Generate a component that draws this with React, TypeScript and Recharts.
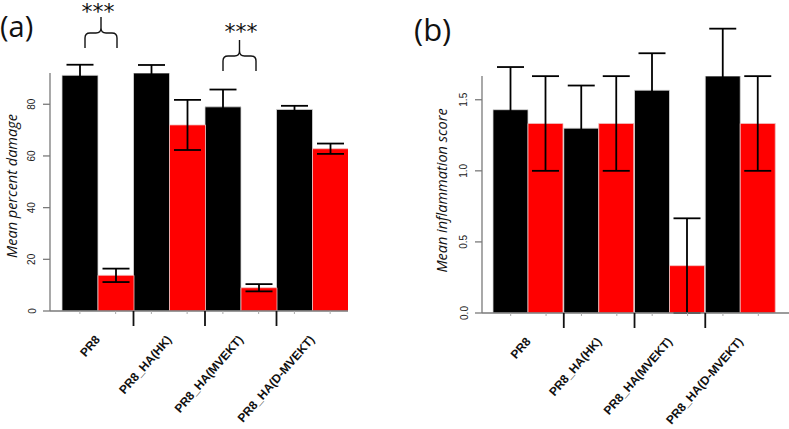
import React from 'react';
import { BarChart, Bar, XAxis, YAxis, ErrorBar, Label } from 'recharts';

const groups = ['PR8', 'PR8_HA(HK)', 'PR8_HA(MVEKT)', 'PR8_HA(D-MVEKT)'];

// panel (a) - mean percent damage
const damageBlack = [91.2, 92.1, 79.0, 78.0];
const damageBlackErr = [4.1, 3.1, 6.7, 1.4];
const damageRed = [13.8, 72.0, 9.0, 62.8];
const damageRedErr = [2.6, 9.7, 1.4, 2.0];
const damageTicks = [0, 20, 40, 60, 80];

// panel (b) - mean inflammation score
const inflamBlack = [1.43, 1.3, 1.567, 1.667];
const inflamBlackErr = [0.3, 0.3, 0.26, 0.333];
const inflamRed = [1.333, 1.333, 0.333, 1.333];
const inflamRedErr = [0.333, 0.333, 0.333, 0.333];
const inflamTicks = [0, 0.5, 1, 1.5];

const damageData = groups.map((g, i) => ({
  group: g,
  black: damageBlack[i],
  blackErr: damageBlackErr[i],
  red: damageRed[i],
  redErr: damageRedErr[i],
}));

const inflamData = groups.map((g, i) => ({
  group: g,
  black: inflamBlack[i],
  blackErr: inflamBlackErr[i],
  red: inflamRed[i],
  redErr: inflamRedErr[i],
}));

const damageMax = Math.max(...damageBlack, ...damageRed);
const inflamMax = Math.max(...inflamBlack, ...inflamRed);

const axisGray = '#7a7a7a';
const sans = '"Liberation Sans", Arial, sans-serif';
const roundSans = '"Open Sans", "DejaVu Sans", sans-serif';

const makeXTick = (half: number) => (props: any) => {
  const { x, y, payload, index } = props;
  const lx = x + 3;
  const ly = y + 29;
  return (
    <g>
      {index < groups.length - 1 && (
        <line x1={x + half} x2={x + half} y1={y} y2={y + 15} stroke="#111" strokeWidth={1.8} />
      )}
      <line x1={x - half / 2} x2={x - half / 2} y1={y} y2={y + 3} stroke="#aaa" />
      <line x1={x + half / 2} x2={x + half / 2} y1={y} y2={y + 3} stroke="#aaa" />
      <text
        x={lx}
        y={ly}
        transform={`rotate(-49, ${lx}, ${ly})`}
        textAnchor="end"
        fontFamily={sans}
        fontWeight="bold"
        fontSize={12}
        fill="#111"
      >
        {payload.value}
      </text>
    </g>
  );
};

const makeYTick = (digits: number) => (props: any) => {
  const { x, y, payload } = props;
  const tx = x - 9;
  return (
    <text
      x={tx}
      y={y}
      transform={`rotate(-90, ${tx}, ${y})`}
      textAnchor="middle"
      dominantBaseline="central"
      fontFamily={sans}
      fontSize={10}
      fill="#222"
    >
      {Number(payload.value).toFixed(digits)}
    </text>
  );
};

const makeYLabel = (text: string, dx: number, dy: number) => (props: any) => {
  const vb = props.viewBox || { x: 0, y: 0, width: 0, height: 0 };
  const lx = vb.x + dx;
  const ly = vb.y + vb.height / 2 + dy;
  return (
    <text
      x={lx}
      y={ly}
      transform={`rotate(-90, ${lx}, ${ly})`}
      textAnchor="middle"
      dominantBaseline="central"
      fontFamily={roundSans}
      fontStyle="italic"
      fontSize={14.5}
      fill="#111"
    >
      {text}
    </text>
  );
};

const Panel = ({ data, width, yWidth, padLeft, padRight, bottom, top, max, ticks, digits, label, labelX, labelDy, half, errW }: any) => (
  <BarChart
    width={width}
    height={429}
    data={data}
    margin={{ top, right: 0, bottom: 0, left: 0 }}
    barCategoryGap={0}
    barGap={0}
  >
    <XAxis
      dataKey="group"
      type="category"
      interval={0}
      height={bottom}
      padding={{ left: padLeft, right: padRight }}
      axisLine={{ stroke: axisGray, strokeWidth: 1.3 }}
      tickLine={false}
      tickSize={0}
      tickMargin={0}
      tick={makeXTick(half)}
    />
    <YAxis
      type="number"
      width={yWidth}
      domain={[0, max]}
      allowDataOverflow
      ticks={ticks}
      interval={0}
      axisLine={{ stroke: axisGray, strokeWidth: 1.3 }}
      tickLine={{ stroke: axisGray, strokeWidth: 1.3 }}
      tickSize={7}
      tickMargin={2}
      tick={makeYTick(digits)}
    >
      <Label content={makeYLabel(label, labelX, labelDy)} />
    </YAxis>
    <Bar dataKey="black" fill="#000" stroke="#d8d8d8" strokeWidth={0.8} isAnimationActive={false}>
      <ErrorBar dataKey="blackErr" direction="y" width={errW} stroke="#000" strokeWidth={1.8} isAnimationActive={false} />
    </Bar>
    <Bar dataKey="red" fill="#ff0000" stroke="#f0c0c0" strokeWidth={0.8} isAnimationActive={false}>
      <ErrorBar dataKey="redErr" direction="y" width={errW} stroke="#000" strokeWidth={1.8} isAnimationActive={false} />
    </Bar>
  </BarChart>
);

const Brace = ({ x1, x2, top, mid, bottom }: any) => {
  const c = (x1 + x2) / 2;
  const r = 5;
  const d = `M${x1},${bottom} L${x1},${mid + r} Q${x1},${mid} ${x1 + r},${mid} L${c - r},${mid} Q${c},${mid} ${c},${mid - r} L${c},${top}` +
    ` M${c},${mid - r} Q${c},${mid} ${c + r},${mid} L${x2 - r},${mid} Q${x2},${mid} ${x2},${mid + r} L${x2},${bottom}`;
  return <path d={d} fill="none" stroke="#111" strokeWidth={1.4} />;
};

const App = () => {
  return (
    <div style={{ position: 'absolute', left: 0, top: 0, width: 789, height: 429, background: '#fff', overflow: 'hidden' }}>
      <div style={{ position: 'absolute', left: 0, top: 0 }}>
        <Panel
          data={damageData}
          width={348}
          yWidth={50}
          padLeft={12}
          padRight={0}
          bottom={118}
          top={73}
          max={damageMax}
          ticks={damageTicks}
          digits={0}
          label="Mean percent damage"
          labelX={11}
          labelDy={-6}
          half={35.75}
          errW={13.5}
        />
      </div>
      <div style={{ position: 'absolute', left: 400, top: 0 }}>
        <Panel
          data={inflamData}
          width={389}
          yWidth={82}
          padLeft={11}
          padRight={13}
          bottom={116}
          top={76}
          max={inflamMax}
          ticks={inflamTicks}
          digits={1}
          label="Mean inflammation score"
          labelX={41}
          labelDy={-4}
          half={35.4}
          errW={13.5}
        />
      </div>
      <svg width={789} height={429} style={{ position: 'absolute', left: 0, top: 0, pointerEvents: 'none' }}>
        <text x={0} y={37} fontFamily={roundSans} fontSize={29} fill="#111">(a)</text>
        <text x={414} y={41} fontFamily={roundSans} fontSize={31} fill="#111">(b)</text>
        <text x={98} y={19} textAnchor="middle" fontFamily='"DejaVu Sans", sans-serif' fontSize={22} fill="#111">***</text>
        <text x={241} y={39} textAnchor="middle" fontFamily='"DejaVu Sans", sans-serif' fontSize={22} fill="#111">***</text>
        <Brace x1={85} x2={117} top={17} mid={33} bottom={48} />
        <Brace x1={223} x2={256} top={40} mid={56} bottom={71} />
      </svg>
    </div>
  );
};

export default App;
